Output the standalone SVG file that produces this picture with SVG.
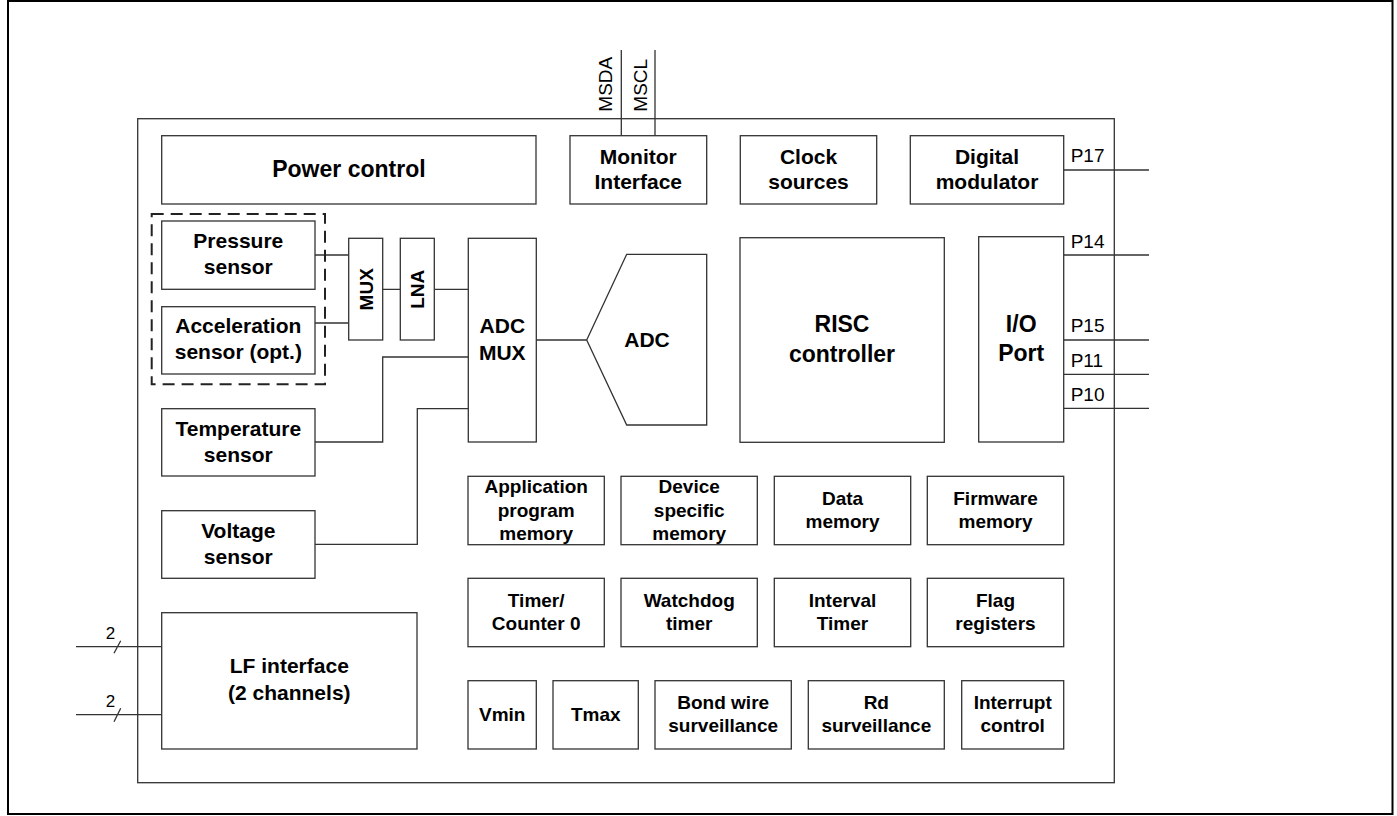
<svg xmlns="http://www.w3.org/2000/svg" width="1397" height="816" viewBox="0 0 1397 816">
<style>
.box{fill:#fff;stroke:#333;stroke-width:1.3}
.ln{fill:none;stroke:#333;stroke-width:1.3}
text{font-family:"Liberation Sans",Arial,sans-serif;fill:#000}
.b{font-weight:bold;text-anchor:middle}
.f23{font-size:23px}
.f21{font-size:21px}
.f19{font-size:19px}
.pin{font-size:19px}
</style>
<rect x="8" y="1" width="1384.5" height="813" fill="#fff" stroke="#000" stroke-width="2"/>
<rect id="chip" x="137.7" y="118.7" width="976.6" height="664" class="box"/>

<g id="connectors">
<path class="ln" d="M621.3 50V135.7M655 50V135.7"/>
<path class="ln" d="M315 255H348.7M315 323H348.7M382.7 289.3H400.3M434.3 289.3H468.3M536.3 340H586.7"/>
<path class="ln" d="M315 442H382.7V357H468.3"/>
<path class="ln" d="M315 544.3H417.3V408.7H468.3"/>
<path class="ln" d="M1063.7 170H1149M1063.7 255H1149M1063.7 340H1149M1063.7 374.3H1149M1063.7 408.3H1149"/>
<path class="ln" d="M76 646.7H161.7M76 714.7H161.7M114 653.3L120.7 640.7M114 721.7L120.7 708.3"/>
</g>

<g id="labels">
<text class="pin" transform="translate(611.7,111.7) rotate(-90)">MSDA</text>
<text class="pin" transform="translate(646.7,111.7) rotate(-90)">MSCL</text>
<text class="pin" x="1070.7" y="162.3">P17</text>
<text class="pin" x="1070.7" y="247.7">P14</text>
<text class="pin" x="1070.7" y="332.3">P15</text>
<text class="pin" x="1070.7" y="366.7">P11</text>
<text class="pin" x="1070.7" y="401">P10</text>
<text style="font-size:17px" x="110.5" y="639" text-anchor="middle">2</text>
<text style="font-size:17px" x="110.5" y="707.3" text-anchor="middle">2</text>
</g>

<g id="power-control"><rect class="box" x="161.7" y="135.7" width="374.3" height="68.3"/><text class="b f23" x="348.9" y="176.7">Power control</text></g>
<g id="monitor-interface"><rect class="box" x="570" y="135.7" width="136.7" height="68.3"/><text class="b f21" x="638.3" y="164">Monitor</text><text class="b f21" x="638.3" y="189">Interface</text></g>
<g id="clock-sources"><rect class="box" x="740.3" y="135.7" width="136.4" height="68.3"/><text class="b f21" x="808.5" y="164">Clock</text><text class="b f21" x="808.5" y="189">sources</text></g>
<g id="digital-modulator"><rect class="box" x="910.3" y="135.7" width="153.4" height="68.3"/><text class="b f21" x="987" y="164">Digital</text><text class="b f21" x="987" y="189">modulator</text></g>

<rect id="sensor-group" x="151.7" y="214" width="173.3" height="170.3" fill="none" stroke="#222" stroke-width="2" stroke-dasharray="12 7"/>
<g id="pressure-sensor"><rect class="box" x="161.7" y="221" width="153.3" height="68.3"/><text class="b f21" x="238.3" y="248">Pressure</text><text class="b f21" x="238.3" y="274">sensor</text></g>
<g id="acceleration-sensor"><rect class="box" x="161.7" y="306.7" width="153.3" height="67.3"/><text class="b f21" x="238.3" y="333.3">Acceleration</text><text class="b f21" x="238.3" y="359.3">sensor (opt.)</text></g>
<g id="temperature-sensor"><rect class="box" x="161.7" y="408.7" width="153.3" height="67.3"/><text class="b f21" x="238.3" y="436">Temperature</text><text class="b f21" x="238.3" y="462">sensor</text></g>
<g id="voltage-sensor"><rect class="box" x="161.7" y="510.7" width="153.3" height="67.6"/><text class="b f21" x="238.3" y="538">Voltage</text><text class="b f21" x="238.3" y="564">sensor</text></g>

<g id="mux"><rect class="box" x="348.7" y="238.3" width="34" height="101.7"/><text class="b f19" transform="translate(365.7,289.3) rotate(-90)" x="0" y="6.8">MUX</text></g>
<g id="lna"><rect class="box" x="400.3" y="238.3" width="34" height="101.7"/><text class="b f19" transform="translate(417.3,289.3) rotate(-90)" x="0" y="6.8">LNA</text></g>
<g id="adc-mux"><rect class="box" x="468.3" y="238.3" width="68" height="203.7"/><text class="b f21" x="502.3" y="333.3">ADC</text><text class="b f21" x="502.3" y="360">MUX</text></g>
<g id="adc"><polygon class="box" points="586.7,340 626.7,254.3 706.7,254.3 706.7,425 626.7,425"/><text class="b f21" x="647" y="346.7">ADC</text></g>
<g id="risc-controller"><rect class="box" x="740" y="237.7" width="204.3" height="204.6"/><text class="b f23" x="842" y="331.7">RISC</text><text class="b f23" x="842" y="361.7">controller</text></g>
<g id="io-port"><rect class="box" x="978.7" y="236.7" width="85" height="205.3"/><text class="b f23" x="1021.2" y="331.7">I/O</text><text class="b f23" x="1021.2" y="361">Port</text></g>

<g id="app-memory"><rect class="box" x="468" y="476.3" width="136.3" height="68.4"/><text class="b f19" x="536.2" y="493.3">Application</text><text class="b f19" x="536.2" y="516.7">program</text><text class="b f19" x="536.2" y="540">memory</text></g>
<g id="device-memory"><rect class="box" x="621" y="476.3" width="136.3" height="68.4"/><text class="b f19" x="689.2" y="493.3">Device</text><text class="b f19" x="689.2" y="516.7">specific</text><text class="b f19" x="689.2" y="540">memory</text></g>
<g id="data-memory"><rect class="box" x="774.3" y="476.3" width="136.4" height="68.4"/><text class="b f19" x="842.5" y="505">Data</text><text class="b f19" x="842.5" y="528.3">memory</text></g>
<g id="firmware-memory"><rect class="box" x="927.3" y="476.3" width="136.4" height="68.4"/><text class="b f19" x="995.5" y="505">Firmware</text><text class="b f19" x="995.5" y="528.3">memory</text></g>

<g id="timer-counter"><rect class="box" x="468" y="578.3" width="136.3" height="68.4"/><text class="b f19" x="536.2" y="606.7">Timer/</text><text class="b f19" x="536.2" y="630">Counter 0</text></g>
<g id="watchdog-timer"><rect class="box" x="621" y="578.3" width="136.3" height="68.4"/><text class="b f19" x="689.2" y="606.7">Watchdog</text><text class="b f19" x="689.2" y="630">timer</text></g>
<g id="interval-timer"><rect class="box" x="774.3" y="578.3" width="136.4" height="68.4"/><text class="b f19" x="842.5" y="606.7">Interval</text><text class="b f19" x="842.5" y="630">Timer</text></g>
<g id="flag-registers"><rect class="box" x="927.3" y="578.3" width="136.4" height="68.4"/><text class="b f19" x="995.5" y="606.7">Flag</text><text class="b f19" x="995.5" y="630">registers</text></g>

<g id="vmin"><rect class="box" x="468" y="680.7" width="68.3" height="68.3"/><text class="b f19" x="502.2" y="721">Vmin</text></g>
<g id="tmax"><rect class="box" x="553" y="680.7" width="85.3" height="68.3"/><text class="b f19" x="595.7" y="721">Tmax</text></g>
<g id="bond-wire"><rect class="box" x="655" y="680.7" width="136.3" height="68.3"/><text class="b f19" x="723.2" y="709">Bond wire</text><text class="b f19" x="723.2" y="732.3">surveillance</text></g>
<g id="rd-surveillance"><rect class="box" x="808.3" y="680.7" width="136" height="68.3"/><text class="b f19" x="876.3" y="709">Rd</text><text class="b f19" x="876.3" y="732.3">surveillance</text></g>
<g id="interrupt-control"><rect class="box" x="961.7" y="680.7" width="102" height="68.3"/><text class="b f19" x="1012.7" y="709">Interrupt</text><text class="b f19" x="1012.7" y="732.3">control</text></g>

<g id="lf-interface"><rect class="box" x="161.7" y="612.7" width="255.3" height="136.3"/><text class="b f21" x="289.3" y="673.3">LF interface</text><text class="b f21" x="289.3" y="699.5">(2 channels)</text></g>
</svg>
